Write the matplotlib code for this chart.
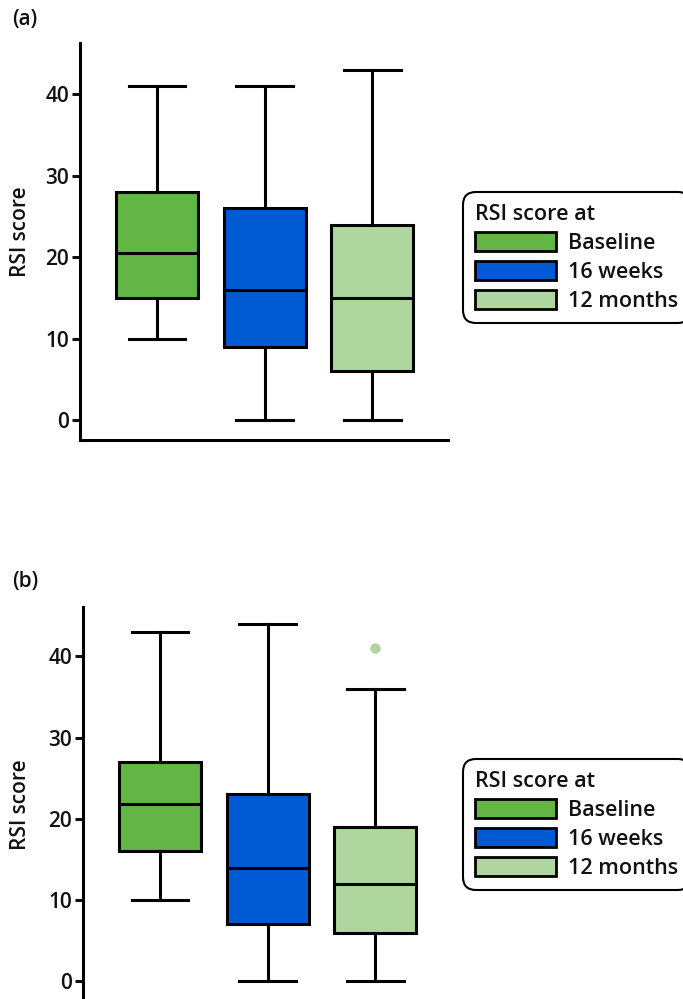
import matplotlib
matplotlib.use("Agg")
import matplotlib.pyplot as plt
from matplotlib.patches import Patch

plt.rcParams['font.family'] = ['Open Sans', 'DejaVu Sans']
plt.rcParams['font.weight'] = 'semibold'
plt.rcParams['axes.labelweight'] = 'semibold'

timepoints = ["Baseline", "16 weeks", "12 months"]
colours = ["#63b545", "#005ad4", "#aed69e"]
yticks = [0, 10, 20, 30, 40]

# (a) RSI score box summaries
a_low = [10, 0, 0]
a_q1 = [15, 9, 6]
a_med = [20.5, 16, 15]
a_q3 = [28, 26, 24]
a_high = [41, 41, 43]
a_out = [[], [], []]

# (b) RSI score box summaries
b_low = [10, 0, 0]
b_q1 = [16, 7, 6]
b_med = [21.8, 14, 12]
b_q3 = [27, 23, 19]
b_high = [43, 44, 36]
b_out = [[], [], [41]]

LW = 2.2
INK = '#111111'


def draw_panel(ax, low, q1, med, q3, high, out):
    stats = []
    for i in range(len(timepoints)):
        stats.append(dict(label=timepoints[i], whislo=low[i], q1=q1[i], med=med[i],
                          q3=q3[i], whishi=high[i], fliers=out[i]))
    res = ax.bxp(stats, positions=[1, 2, 3], widths=0.76, capwidths=0.52,
                 patch_artist=True,
                 boxprops=dict(linewidth=LW, edgecolor='black'),
                 whiskerprops=dict(linewidth=LW, color='black'),
                 capprops=dict(linewidth=LW, color='black'),
                 medianprops=dict(linewidth=LW, color='black'),
                 flierprops=dict(marker='o', markeredgecolor='none', markersize=7.5))
    for box, c in zip(res['boxes'], colours):
        box.set_facecolor(c)
    for fl, c in zip(res['fliers'], colours):
        fl.set_markerfacecolor(c)

    ax.set_xlim(0.29, 3.70)
    ax.set_yticks(yticks)
    ax.set_xticks([])
    ax.spines['top'].set_visible(False)
    ax.spines['right'].set_visible(False)
    ax.spines['left'].set_linewidth(LW)
    ax.spines['bottom'].set_linewidth(LW)
    ax.tick_params(axis='y', direction='out', length=5.8, width=LW,
                   labelsize=15, pad=2, colors=INK)
    ax.set_ylabel("RSI score", fontsize=15, color=INK, fontweight='semibold')


def add_legend(fig, top):
    handles = [Patch(facecolor=c, edgecolor='black', linewidth=2) for c in colours]
    leg = fig.legend(handles, timepoints, title="RSI score at",
                     loc='upper left', bbox_to_anchor=(463 / 683, top),
                     bbox_transform=fig.transFigure,
                     fancybox=True, edgecolor='black', framealpha=1,
                     fontsize=15.5, title_fontsize=15.5, alignment='left',
                     handlelength=3.75, handleheight=1.0, labelspacing=0.32,
                     borderpad=0.55, handletextpad=0.6, borderaxespad=0)
    leg.get_frame().set_linewidth(1.5)
    leg.get_frame().set_boxstyle('round', pad=0, rounding_size=0.6)
    for t in leg.get_texts():
        t.set_color(INK)
    leg.get_title().set_color(INK)
    return leg


fig = plt.figure(figsize=(6.83, 9.99), dpi=100)

ax_a = fig.add_axes([80 / 683, 1 - 440 / 999, 368 / 683, 397 / 999])
draw_panel(ax_a, a_low, a_q1, a_med, a_q3, a_high, a_out)
ax_a.set_ylim(-2.45, 46.3)
ax_a.yaxis.set_label_coords(-0.133, 0.524)

ax_b = fig.add_axes([83 / 683, 0, 368 / 683, 392.3 / 999])
draw_panel(ax_b, b_low, b_q1, b_med, b_q3, b_high, b_out)
ax_b.set_ylim(-2.17, 46.1)
ax_b.spines['bottom'].set_visible(False)
ax_b.yaxis.set_label_coords(-0.141, 0.495)

add_legend(fig, 1 - 192 / 999)
add_legend(fig, 1 - 759 / 999)

fig.text(12 / 683, 1 - 20 / 999, "(a)", fontsize=15, fontweight='semibold',
         va='center', color=INK)
fig.text(12 / 683, 1 - 582 / 999, "(b)", fontsize=15, fontweight='semibold',
         va='center', color=INK)

fig.savefig("out.png", dpi=100)
